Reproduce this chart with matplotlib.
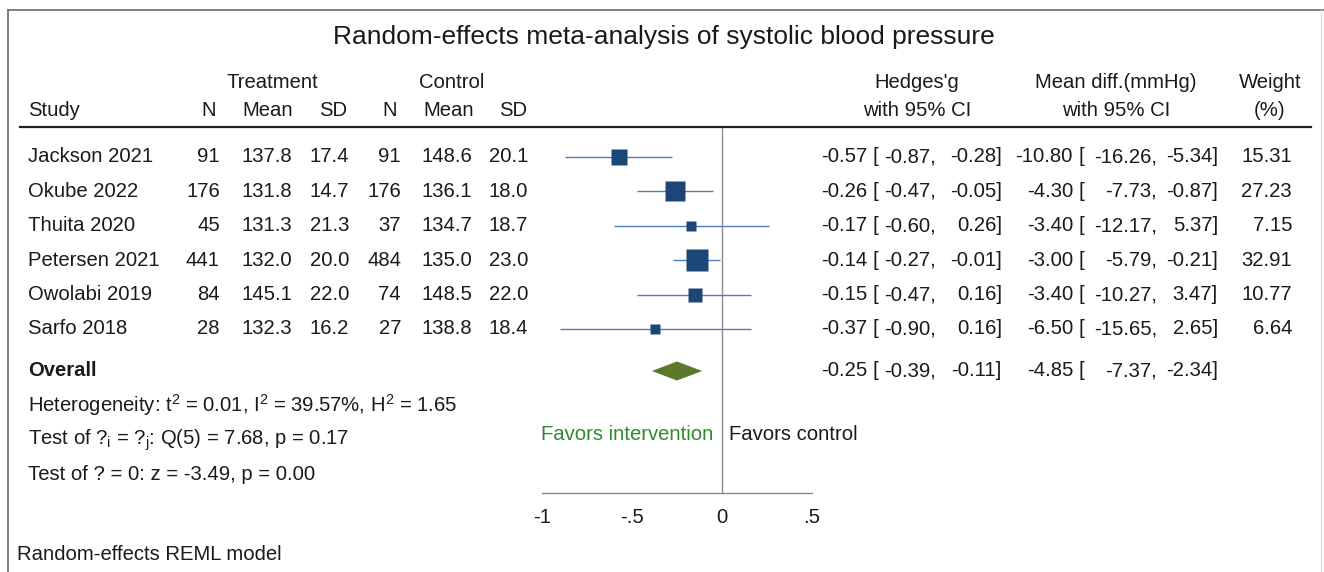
import matplotlib
matplotlib.use('Agg')
import matplotlib.pyplot as plt
from matplotlib.patches import Polygon
import numpy as np

plt.rcParams['font.family'] = ['Liberation Sans', 'DejaVu Sans']
plt.rcParams['mathtext.fontset'] = 'custom'
plt.rcParams['mathtext.rm'] = 'Liberation Sans'
plt.rcParams['mathtext.it'] = 'Liberation Sans'
plt.rcParams['mathtext.default'] = 'regular'

# data
studies = ['Jackson 2021', 'Okube 2022', 'Thuita 2020', 'Petersen 2021', 'Owolabi 2019', 'Sarfo 2018']
n_t = [91, 176, 45, 441, 84, 28]
mean_t = [137.8, 131.8, 131.3, 132.0, 145.1, 132.3]
sd_t = [17.4, 14.7, 21.3, 20.0, 22.0, 16.2]
n_c = [91, 176, 37, 484, 74, 27]
mean_c = [148.6, 136.1, 134.7, 135.0, 148.5, 138.8]
sd_c = [20.1, 18.0, 18.7, 23.0, 22.0, 18.4]
g = [-0.57, -0.26, -0.17, -0.14, -0.15, -0.37]
g_lo = [-0.87, -0.47, -0.60, -0.27, -0.47, -0.90]
g_hi = [-0.28, -0.05, 0.26, -0.01, 0.16, 0.16]
md = [-10.80, -4.30, -3.40, -3.00, -3.40, -6.50]
md_lo = [-16.26, -7.73, -12.17, -5.79, -10.27, -15.65]
md_hi = [-5.34, -0.87, 5.37, -0.21, 3.47, 2.65]
weight = [15.31, 27.23, 7.15, 32.91, 10.77, 6.64]
overall_g = [-0.25, -0.39, -0.11]
overall_md = [-4.85, -7.37, -2.34]
x_ticks = [-1, -0.5, 0, 0.5]
x_ticklabels = ['-1', '-.5', '0', '.5']

W, H = 1324, 572
fig = plt.figure(figsize=(W / 100, H / 100), dpi=100, facecolor='white')

# background axes in pixel coordinates for the table text
bg = fig.add_axes([0, 0, 1, 1])
bg.set_xlim(0, W)
bg.set_ylim(H, 0)
bg.axis('off')

fs = 14.6
txt = '#1a1a1a'

# frame
bg.plot([8, 8], [10, H], color='#6a6a6a', lw=1.2)
bg.plot([8, W], [10, 10], color='#6a6a6a', lw=1.2)
bg.plot([1321, 1321], [10, H], color='#dddddd', lw=1)

bg.text(664, 37, 'Random-effects meta-analysis of systolic blood pressure',
        fontsize=19, ha='center', va='center', color=txt)

# headers
bg.text(272, 82, 'Treatment', fontsize=fs, ha='center', va='center', color=txt)
bg.text(452, 82, 'Control', fontsize=fs, ha='center', va='center', color=txt)
bg.text(28, 110, 'Study', fontsize=fs, ha='left', va='center', color=txt)
for xr, lab in [(216, 'N'), (293, 'Mean'), (347, 'SD'), (397, 'N'), (474, 'Mean'), (527, 'SD')]:
    bg.text(xr, 110, lab, fontsize=fs, ha='right', va='center', color=txt)
bg.text(917, 82, "Hedges'g", fontsize=fs, ha='center', va='center', color=txt)
bg.text(917, 110, 'with 95% CI', fontsize=fs, ha='center', va='center', color=txt)
bg.text(1116, 82, 'Mean diff.(mmHg)', fontsize=fs, ha='center', va='center', color=txt)
bg.text(1116, 110, 'with 95% CI', fontsize=fs, ha='center', va='center', color=txt)
bg.text(1270, 82, 'Weight', fontsize=fs, ha='center', va='center', color=txt)
bg.text(1270, 110, '(%)', fontsize=fs, ha='center', va='center', color=txt)
bg.plot([20, 1311], [127, 127], color='#222222', lw=1.6)

row_y = 157 + 34.4 * np.arange(len(studies))
overall_y = 371


def ci_text(y, vals, cols, fmt):
    est, lo, hi = vals
    x_est, x_br, x_lo, x_hi = cols
    bg.text(x_est, y, fmt.format(est), fontsize=fs, ha='right', va='center', color=txt)
    bg.text(x_br, y, '[', fontsize=fs, ha='left', va='center', color=txt)
    bg.text(x_lo, y, fmt.format(lo) + ',', fontsize=fs, ha='right', va='center', color=txt)
    bg.text(x_hi, y, fmt.format(hi) + ']', fontsize=fs, ha='right', va='center', color=txt)


g_cols = (867, 872, 936, 1002)
md_cols = (1073, 1078, 1157, 1218)

for i, y in enumerate(row_y):
    bg.text(28, y, studies[i], fontsize=fs, ha='left', va='center', color=txt)
    bg.text(220, y, f'{n_t[i]}', fontsize=fs, ha='right', va='center', color=txt)
    bg.text(292, y, f'{mean_t[i]:.1f}', fontsize=fs, ha='right', va='center', color=txt)
    bg.text(349, y, f'{sd_t[i]:.1f}', fontsize=fs, ha='right', va='center', color=txt)
    bg.text(401, y, f'{n_c[i]}', fontsize=fs, ha='right', va='center', color=txt)
    bg.text(472, y, f'{mean_c[i]:.1f}', fontsize=fs, ha='right', va='center', color=txt)
    bg.text(528, y, f'{sd_c[i]:.1f}', fontsize=fs, ha='right', va='center', color=txt)
    ci_text(y, (g[i], g_lo[i], g_hi[i]), g_cols, '{:.2f}')
    ci_text(y, (md[i], md_lo[i], md_hi[i]), md_cols, '{:.2f}')
    bg.text(1292, y, f'{weight[i]:.2f}', fontsize=fs, ha='right', va='center', color=txt)

bg.text(28, overall_y, 'Overall', fontsize=fs, fontweight='bold', ha='left', va='center', color=txt)
ci_text(overall_y, overall_g, g_cols, '{:.2f}')
ci_text(overall_y, overall_md, md_cols, '{:.2f}')

bg.text(28, 405, 'Heterogeneity: t$^{2}$ = 0.01, I$^{2}$ = 39.57%, H$^{2}$ = 1.65',
        fontsize=fs, ha='left', va='center', color=txt)
bg.text(28, 440, 'Test of ?$_{i}$ = ?$_{j}$: Q(5) = 7.68, p = 0.17',
        fontsize=fs, ha='left', va='center', color=txt)
bg.text(28, 474, 'Test of ? = 0: z = -3.49, p = 0.00',
        fontsize=fs, ha='left', va='center', color=txt)
bg.text(713, 435, 'Favors intervention', fontsize=fs, ha='right', va='center', color='#2e8b2e')
bg.text(729, 435, 'Favors control', fontsize=fs, ha='left', va='center', color=txt)
bg.text(17, 555, 'Random-effects REML model', fontsize=fs, ha='left', va='center', color=txt)

# forest axes
x0, x1, y0, y1 = 542, 812, 128, 493
ax = fig.add_axes([x0 / W, 1 - y1 / H, (x1 - x0) / W, (y1 - y0) / H])
ax.set_xlim(-1, 0.5)
ax.set_ylim(y1, y0)
ax.patch.set_alpha(0)
for s in ['top', 'left', 'right']:
    ax.spines[s].set_visible(False)
ax.spines['bottom'].set_color('#888888')
ax.spines['bottom'].set_linewidth(1)
ax.set_yticks([])
ax.set_xticks(x_ticks)
ax.set_xticklabels(x_ticklabels)
ax.tick_params(axis='x', length=0, pad=11, labelsize=fs, labelcolor=txt)

ax.axvline(0, color='#8c8c8c', lw=1)
ax.hlines(row_y, g_lo, g_hi, color='#4f7fb5', lw=1)
for i, y in enumerate(row_y):
    side = 4.0 * np.sqrt(weight[i]) * 0.72
    ax.plot(g[i], y, marker='s', markersize=side, color='#1b4675', mec='none')

est, lo, hi = overall_g
diamond = Polygon([(lo, overall_y), (est, overall_y - 9.5), (hi, overall_y), (est, overall_y + 9.5)],
                  closed=True, facecolor='#5a7a2a', edgecolor='none')
ax.add_patch(diamond)

fig.savefig('out.png', dpi=100, facecolor='white')
